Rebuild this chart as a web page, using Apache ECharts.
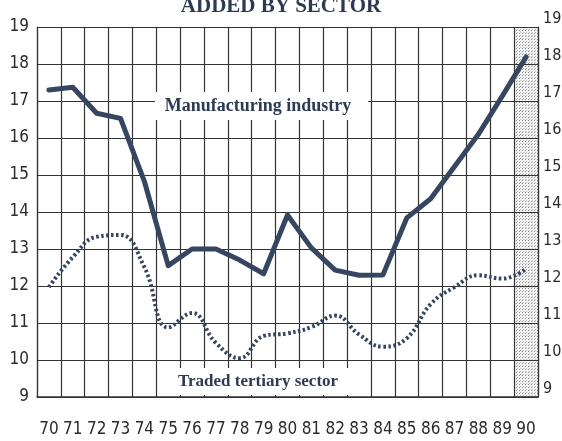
<!DOCTYPE html>
<html>
<head>
<meta charset="utf-8">
<script src="https://cdn.jsdelivr.net/npm/echarts@6/dist/echarts.min.js"></script>
<style>
  html, body { margin: 0; padding: 0; background: #fff; }
  #chart { width: 562px; height: 441px; }
</style>
</head>
<body>
<div id="chart"></div>
<script>
const years = ['70', '71', '72', '73', '74', '75', '76', '77', '78', '79', '80',
  '81', '82', '83', '84', '85', '86', '87', '88', '89', '90'];
const manufacturing = [17.3, 17.37, 16.67, 16.53, 14.83, 12.55, 13.0, 13.0, 12.7, 12.33, 13.92,
  13.03, 12.43, 12.29, 12.3, 13.84, 14.36, 15.23, 16.1, 17.13, 18.19];
const tertiary = [11.97, 12.78, 13.33, 13.38, 12.51, 10.88, 11.27, 10.46, 10.05, 10.65, 10.72,
  10.89, 11.2, 10.69, 10.36, 10.59, 11.51, 11.97, 12.29, 12.2, 12.46];
const shadedYears = ['90'];
const yMin = 9;
const yMax = 19;

const ink = '#364660';
const gridInk = '#333333';
const narrow = "'Liberation Sans Narrow', 'DejaVu Sans Condensed', 'Liberation Sans', sans-serif";
const serif = "'Liberation Serif', 'DejaVu Serif', serif";

// dotted fill for the last (forecast) column
function dotPattern() {
  const c = document.createElement('canvas');
  c.width = 3;
  c.height = 3;
  const ctx = c.getContext('2d');
  ctx.fillStyle = '#f2f2f2';
  ctx.fillRect(0, 0, 3, 3);
  ctx.fillStyle = '#8a8a8a';
  ctx.fillRect(0, 0, 1, 1);
  ctx.fillStyle = '#b5b5b5';
  ctx.fillRect(1, 2, 1, 1);
  return c;
}

const myChart = echarts.init(document.getElementById('chart'));
myChart.setOption({
  animation: false,
  grid: {
    left: 37,
    right: 24,
    top: 27,
    bottom: 44,
    outerBoundsMode: 'none'
  },
  xAxis: {
    type: 'category',
    data: years,
    boundaryGap: true,
    axisLine: { lineStyle: { color: gridInk, width: 1.5 } },
    axisTick: { show: false },
    splitLine: { show: true, lineStyle: { color: gridInk, width: 1.2 } },
    axisLabel: {
      color: '#2b2b2b',
      fontFamily: narrow,
      fontSize: 17,
      margin: 24,
      interval: 0
    }
  },
  yAxis: [
    {
      type: 'value',
      min: yMin,
      max: yMax,
      interval: 1,
      position: 'left',
      axisLine: { show: true, lineStyle: { color: gridInk, width: 1.2 } },
      axisTick: { show: false },
      splitLine: { lineStyle: { color: gridInk, width: 1.2 } },
      axisLabel: {
        color: '#2b2b2b',
        fontFamily: narrow,
        fontSize: 17,
        margin: 8
      }
    },
    {
      type: 'value',
      min: yMin,
      max: yMax,
      interval: 1,
      position: 'right',
      axisLine: { show: true, lineStyle: { color: gridInk, width: 1.2 } },
      axisTick: { show: false },
      splitLine: { show: false },
      axisLabel: {
        color: '#2b2b2b',
        fontFamily: narrow,
        fontSize: 16,
        margin: 5,
        verticalAlign: 'bottom',
        lineHeight: 17
      }
    }
  ],
  series: [
    {
      type: 'bar',
      z: -1,
      barWidth: '100%',
      silent: true,
      itemStyle: { color: { image: dotPattern(), repeat: 'repeat' } },
      data: years.map(y => (shadedYears.includes(y) ? yMax : '-'))
    },
    {
      name: 'Traded tertiary sector',
      type: 'line',
      smooth: 0.45,
      symbol: 'none',
      lineStyle: { color: ink, width: 4, type: [2.5, 2.5] },
      data: tertiary
    },
    {
      name: 'Manufacturing industry',
      type: 'line',
      symbol: 'none',
      lineStyle: { color: ink, width: 5, join: 'round', cap: 'round' },
      data: manufacturing
    }
  ],
  graphic: [
    {
      type: 'text',
      left: 'center',
      top: -4,
      z: 100,
      style: {
        text: 'ADDED BY SECTOR',
        font: 'bold 21px ' + serif,
        fill: '#2c3a52'
      }
    },
    {
      type: 'rect',
      z: 100,
      shape: { x: 155, y: 92, width: 213, height: 28 },
      style: { fill: '#fff' }
    },
    {
      type: 'text',
      z: 101,
      x: 258,
      y: 106,
      style: {
        text: 'Manufacturing industry',
        font: 'bold 18px ' + serif,
        fill: '#2c3a52',
        align: 'center',
        verticalAlign: 'middle'
      }
    },
    {
      type: 'rect',
      z: 100,
      shape: { x: 158, y: 368, width: 210, height: 27 },
      style: { fill: '#fff' }
    },
    {
      type: 'text',
      z: 101,
      x: 258,
      y: 382,
      style: {
        text: 'Traded tertiary sector',
        font: 'bold 17px ' + serif,
        fill: '#2c3a52',
        align: 'center',
        verticalAlign: 'middle'
      }
    }
  ]
});
</script>
</body>
</html>
